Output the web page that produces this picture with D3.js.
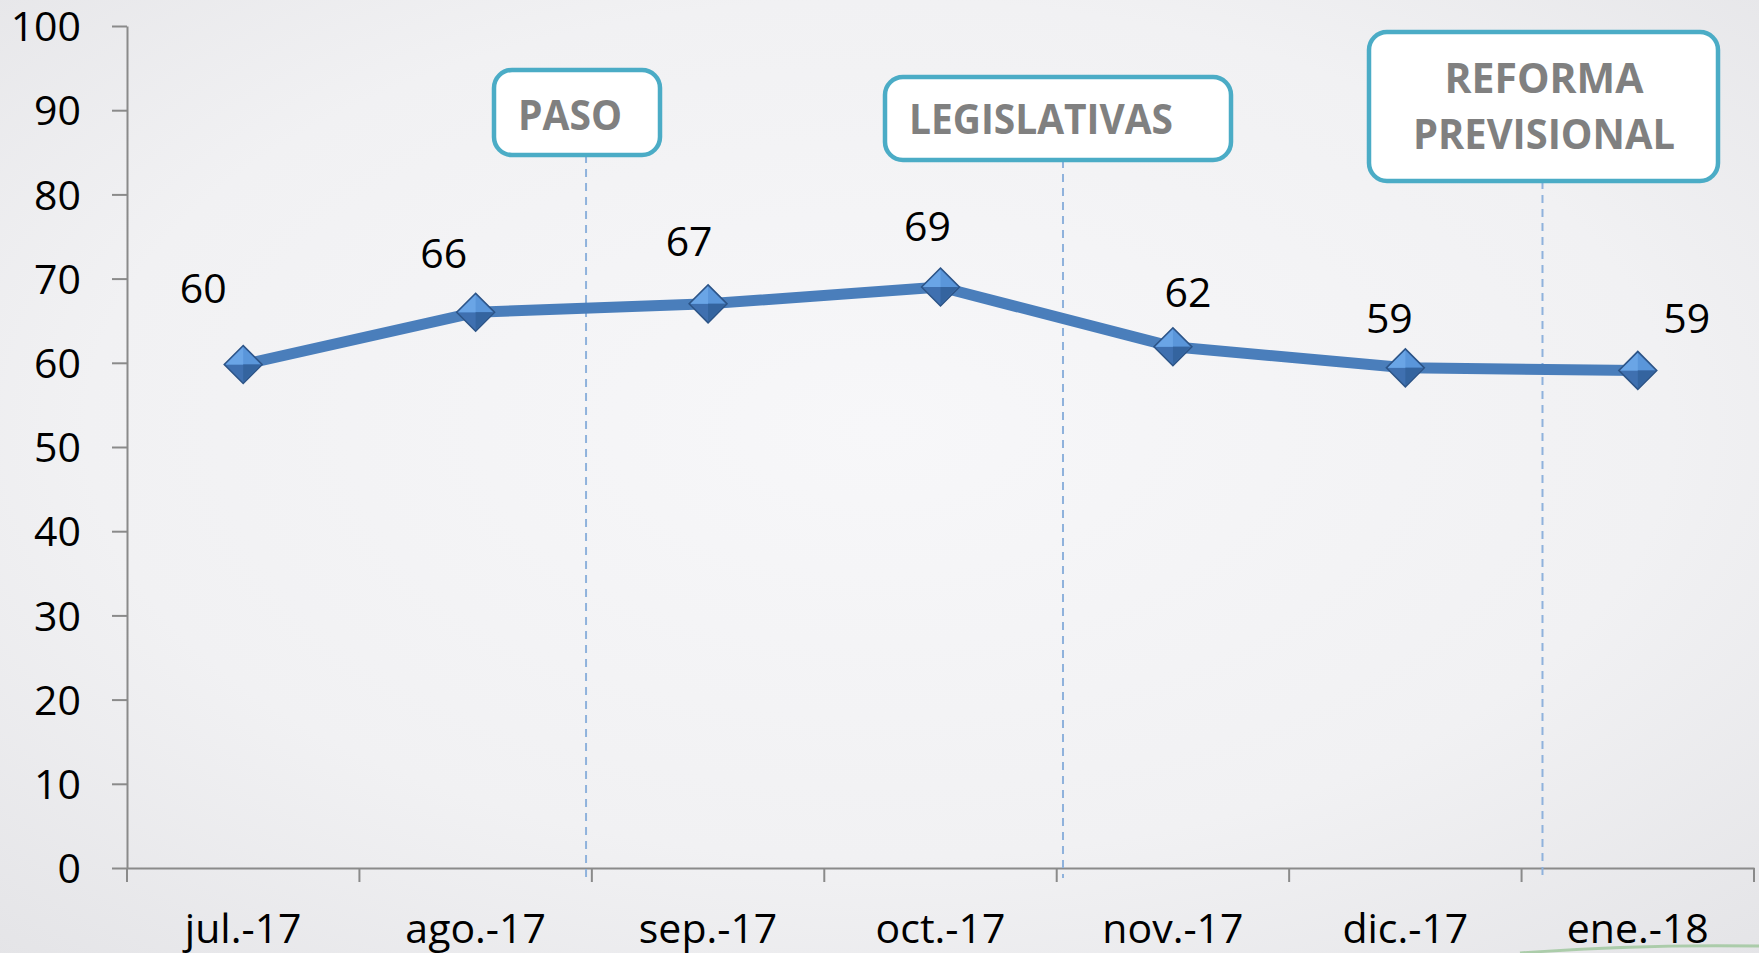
<!DOCTYPE html>
<html>
<head>
<meta charset="utf-8">
<script src="https://cdn.jsdelivr.net/npm/d3@7"></script>
<style>
    html, body { margin: 0; padding: 0; overflow: hidden; }
    body { width: 1759px; height: 953px; }
    text { font-family: "Open Sans", "Noto Sans", sans-serif; }
</style>
</head>
<body>
<div id="chart"></div>
<script>
// data
const months = ['jul.-17', 'ago.-17', 'sep.-17', 'oct.-17', 'nov.-17', 'dic.-17', 'ene.-18'];
const values = [59.8, 66.0, 67.0, 69.0, 61.9, 59.4, 59.1];
const yTicks = [0, 10, 20, 30, 40, 50, 60, 70, 80, 90, 100];

// events, position given in month index units (0 = jul.-17)
const eventLines = [['PASO'], ['LEGISLATIVAS'], ['REFORMA', 'PREVISIONAL']];
const eventAt = [1.475, 3.527, 5.59];

// layout bits (not data)
const labelOffsets = [[-40, -61], [-32, -44], [-19, -48], [-13, -46], [15, -40], [-16, -35], [49, -37]];
const boxes = [
    { x: 494, y: 70, w: 166, h: 85, cx: 570, base: [130], len: [104] },
    { x: 885, y: 77, w: 346, h: 83, cx: 1041, base: [134], len: [264] },
    { x: 1369, y: 32, w: 349, h: 149, cx: 1544, base: [93, 149], len: [199, 262] }
];

const width = 1759;
const height = 953;
const margin = { top: 26, right: 5, bottom: 85, left: 127 };

const svg = d3.select('#chart')
    .append('svg')
    .attr('width', width)
    .attr('height', height);

const defs = svg.append('defs');

const bg = defs.append('radialGradient')
    .attr('id', 'bg')
    .attr('cx', '50%').attr('cy', '45%').attr('r', '75%');
bg.append('stop').attr('offset', '0%').attr('stop-color', '#f7f7f9');
bg.append('stop').attr('offset', '60%').attr('stop-color', '#f1f1f3');
bg.append('stop').attr('offset', '100%').attr('stop-color', '#e4e4e7');

svg.append('rect')
    .attr('width', width)
    .attr('height', height)
    .attr('fill', 'url(#bg)');

// green decoration peeking at bottom right
svg.append('path')
    .attr('d', 'M1520,953 Q1640,944 1759,946')
    .attr('fill', 'none')
    .attr('stroke', '#9cc59a')
    .attr('stroke-width', 3)
    .attr('opacity', 0.8);

const x = d3.scaleBand()
    .domain(months)
    .range([margin.left, width - margin.right])
    .padding(0);

const y = d3.scaleLinear()
    .domain([0, 100])
    .range([height - margin.bottom, margin.top]);

// index -> pixel, for points and event lines
const xi = d3.scaleLinear()
    .domain([0, months.length - 1])
    .range([x(months[0]) + x.bandwidth() / 2, x(months[months.length - 1]) + x.bandwidth() / 2]);

const axisColor = '#8a8a8a';

// y axis
const yAxis = svg.append('g')
    .attr('transform', `translate(${margin.left},0)`)
    .call(d3.axisLeft(y).tickValues(yTicks).tickSize(15).tickSizeOuter(0).tickPadding(31));
yAxis.select('.domain').attr('stroke', axisColor).attr('stroke-width', 2);
yAxis.selectAll('.tick line').attr('stroke', axisColor).attr('stroke-width', 2);
yAxis.selectAll('.tick text')
    .attr('font-size', 41)
    .attr('font-family', '"Open Sans", "Noto Sans", sans-serif')
    .attr('fill', '#000')
    .attr('dy', '0.36em');

// x axis (labels at centers, ticks at boundaries)
const xAxis = svg.append('g')
    .attr('transform', `translate(0,${y(0)})`)
    .call(d3.axisBottom(x).tickSize(0).tickSizeOuter(0).tickPadding(46));
xAxis.select('.domain').attr('stroke', axisColor).attr('stroke-width', 2);
xAxis.selectAll('.tick text')
    .attr('font-size', 41)
    .attr('font-family', '"Open Sans", "Noto Sans", sans-serif')
    .attr('fill', '#000');

const bounds = months.map(m => x(m)).concat([x.range()[1]]);
xAxis.selectAll('line.bound')
    .data(bounds)
    .enter()
    .append('line')
    .attr('class', 'bound')
    .attr('x1', d => d)
    .attr('x2', d => d)
    .attr('y1', 0)
    .attr('y2', 14)
    .attr('stroke', axisColor)
    .attr('stroke-width', 2);

// event dashed lines
svg.append('g')
    .selectAll('line')
    .data(eventAt)
    .enter()
    .append('line')
    .attr('x1', d => xi(d))
    .attr('x2', d => xi(d))
    .attr('y1', (d, i) => boxes[i].y + boxes[i].h)
    .attr('y2', y(0) + 10)
    .attr('stroke', '#8fb2dc')
    .attr('stroke-width', 2)
    .attr('stroke-dasharray', '8,6');

// line
const line = d3.line()
    .x((d, i) => xi(i))
    .y(d => y(d));

svg.append('path')
    .datum(values)
    .attr('d', line)
    .attr('fill', 'none')
    .attr('stroke', '#4a7ebb')
    .attr('stroke-width', 11)
    .attr('stroke-linejoin', 'round');

// diamond markers
const r = 19;
const markers = svg.append('g')
    .selectAll('g')
    .data(values)
    .enter()
    .append('g')
    .attr('transform', (d, i) => `translate(${xi(i)},${y(d)})`);

markers.append('path')
    .attr('d', `M0,${-r} L${r},0 L0,${r} L${-r},0 Z`)
    .attr('fill', '#3f70b0')
    .attr('stroke', '#2c5487')
    .attr('stroke-width', 1.5);
markers.append('path')
    .attr('d', `M0,${-r + 1.5} L${r - 1.5},0 L${-r + 1.5},0 Z`)
    .attr('fill', '#5a96da');
markers.append('path')
    .attr('d', `M0,${-r + 1.5} L${-r + 1.5},0 L0,0 Z`)
    .attr('fill', '#6aa5e6');
markers.append('path')
    .attr('d', `M0,${r - 1.5} L${r - 1.5},0 L0,0 Z`)
    .attr('fill', '#34649f');

// value labels
svg.append('g')
    .selectAll('text')
    .data(values)
    .enter()
    .append('text')
    .attr('x', (d, i) => xi(i) + labelOffsets[i][0])
    .attr('y', (d, i) => y(d) + labelOffsets[i][1])
    .attr('text-anchor', 'middle')
    .attr('font-size', 41)
    .attr('fill', '#000')
    .text(d => d3.format('.0f')(d));

// event boxes
const eg = svg.append('g')
    .selectAll('g')
    .data(eventLines)
    .enter()
    .append('g');

eg.append('rect')
    .attr('x', (d, i) => boxes[i].x)
    .attr('y', (d, i) => boxes[i].y)
    .attr('width', (d, i) => boxes[i].w)
    .attr('height', (d, i) => boxes[i].h)
    .attr('rx', 18)
    .attr('fill', '#ffffff')
    .attr('stroke', '#4bacc6')
    .attr('stroke-width', 4.5);

eg.each(function(lines, i) {
    const b = boxes[i];
    d3.select(this).selectAll('text')
        .data(lines)
        .enter()
        .append('text')
        .attr('x', b.cx)
        .attr('y', (t, j) => b.base[j])
        .attr('text-anchor', 'middle')
        .attr('font-size', 41)
        .attr('font-weight', 'bold')
        .attr('fill', '#808080')
        .attr('textLength', (t, j) => b.len[j])
        .attr('lengthAdjust', 'spacingAndGlyphs')
        .text(t => t);
});
</script>
</body>
</html>
